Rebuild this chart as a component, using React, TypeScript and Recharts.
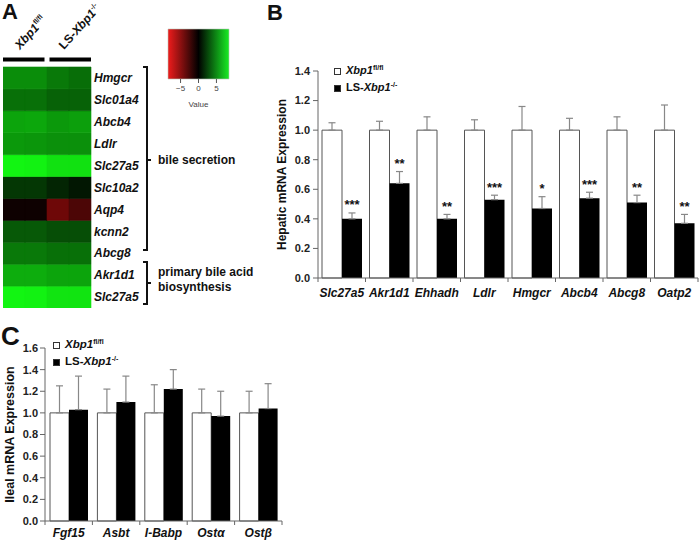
import React from 'react';
import {
  BarChart,
  Bar,
  XAxis,
  YAxis,
  ErrorBar,
  Legend,
  Cell,
  LabelList,
} from 'recharts';

const FONT = '"Liberation Sans", Arial, Helvetica, sans-serif';

// ---------- Panel A: heat map ----------
const heatGenes = ['Hmgcr', 'Slc01a4', 'Abcb4', 'Ldlr', 'Slc27a5', 'Slc10a2', 'Aqp4', 'kcnn2', 'Abcg8', 'Akr1d1', 'Slc27a5'];
const heatCtrl1 = [4.9, 3.9, 5.7, 5.3, 8.5, 1.9, -0.5, 3.1, 4.2, 6.0, 8.5];
const heatCtrl2 = [4.9, 3.9, 5.8, 5.2, 8.4, 1.9, -0.5, 3.1, 4.2, 6.0, 8.4];
const heatKo1 = [4.2, 3.4, 5.3, 5.0, 7.8, 1.3, -3.9, 2.7, 3.9, 5.7, 7.9];
const heatKo2 = [3.8, 3.4, 5.5, 5.0, 7.8, 0.8, -2.7, 2.7, 3.9, 5.7, 7.9];
const heatSampleGroups = ['ctrl', 'ctrl', 'ko', 'ko'];
const colorbarDomain = [-8.5, 8.5];
const colorbarTicks = [-5, 0, 5];

// ---------- Panel B: hepatic ----------
const hepGenes = ['Slc27a5', 'Akr1d1', 'Ehhadh', 'Ldlr', 'Hmgcr', 'Abcb4', 'Abcg8', 'Oatp2'];
const hepCtrl = [1, 1, 1, 1, 1, 1, 1, 1];
const hepCtrlSem = [0.05, 0.06, 0.09, 0.07, 0.16, 0.08, 0.09, 0.17];
const hepKo = [0.4, 0.64, 0.4, 0.53, 0.47, 0.54, 0.51, 0.37];
const hepKoSem = [0.04, 0.08, 0.03, 0.03, 0.08, 0.04, 0.05, 0.06];
const hepStars = ['***', '**', '**', '***', '*', '***', '**', '**'];
const hepTicks = [0, 0.2, 0.4, 0.6, 0.8, 1.0, 1.2, 1.4];

// ---------- Panel C: ileal ----------
const ilealGenes = ['Fgf15', 'Asbt', 'I-Babp', 'Ostα', 'Ostβ'];
const ilealCtrl = [1, 1, 1, 1, 1];
const ilealCtrlSem = [0.25, 0.22, 0.26, 0.22, 0.2];
const ilealKo = [1.03, 1.1, 1.22, 0.97, 1.04];
const ilealKoSem = [0.31, 0.24, 0.18, 0.23, 0.23];
const ilealTicks = [0, 0.2, 0.4, 0.6, 0.8, 1.0, 1.2, 1.4, 1.6];

// ---------- derived tables ----------
const heatSamples = [heatCtrl1, heatCtrl2, heatKo1, heatKo2];
const heatData = heatSamples.map((_, c) => {
  const row: any = { sample: c, group: heatSampleGroups[c] };
  heatGenes.forEach((__, i) => {
    row['r' + i] = 1;
  });
  return row;
});
const heatRowTicks = heatGenes.map((_, i) => heatGenes.length - 0.5 - i);
const colorbarData = [{ name: 'key', range: colorbarDomain }];

const hepData = hepGenes.map((g, i) => ({
  gene: g,
  ctrl: hepCtrl[i],
  ctrlErr: [0, hepCtrlSem[i]],
  ko: hepKo[i],
  koErr: [0, hepKoSem[i]],
  stars: hepStars[i],
}));

const ilealData = ilealGenes.map((g, i) => ({
  gene: g,
  ctrl: ilealCtrl[i],
  ctrlErr: [0, ilealCtrlSem[i]],
  ko: ilealKo[i],
  koErr: [0, ilealKoSem[i]],
}));

function heatColor(v: number) {
  const t = Math.min(1, Math.abs(v) / 8.5);
  if (v >= 0) return `rgb(${Math.round(18 * t)},${Math.round(245 * t)},${Math.round(18 * t)})`;
  return `rgb(${Math.round(240 * t)},${Math.round(18 * t)},${Math.round(18 * t)})`;
}

const GroupTick = (props: any) => {
  const { x, y, payload, index } = props;
  const half = payload && payload.offset ? payload.offset : 21;
  const gap = 2.5;
  const x0 = index === 0 ? x - half : x - half + gap;
  return (
    <g>
      <rect x={x0} y={y - 9.5} width={2 * half - gap} height={4} fill="#000" />
      <text
        transform={`translate(${x - 5},${y - 17}) rotate(-48)`}
        fontFamily={FONT}
        fontSize={12}
        fontWeight="bold"
        fill="#111"
      >
        {index === 0 ? (
          <>
            <tspan fontStyle="italic">Xbp1</tspan>
            <tspan fontSize={7} dy={-5}>fl/fl</tspan>
          </>
        ) : (
          <>
            <tspan>LS-</tspan>
            <tspan fontStyle="italic">Xbp1</tspan>
            <tspan fontSize={7} dy={-5}>-/-</tspan>
          </>
        )}
      </text>
    </g>
  );
};

const makeCatTick = (n: number, dy: number) => (props: any) => {
  const { x, y, payload, index } = props;
  const half = payload && payload.offset ? payload.offset : 0;
  return (
    <g>
      <line x1={x - half} y1={y} x2={x - half} y2={y + 4} stroke="#666" strokeWidth={1} />
      {index === n - 1 && <line x1={x + half} y1={y} x2={x + half} y2={y + 4} stroke="#666" strokeWidth={1} />}
      <text
        x={x}
        y={y + dy}
        textAnchor="middle"
        fontFamily={FONT}
        fontSize={12}
        fontWeight="bold"
        fontStyle="italic"
        fill="#111"
      >
        {payload.value}
      </text>
    </g>
  );
};

const makeYTitle = (text: string, bx: number, size: number) => (p: any) => {
  const vb = p.viewBox || { x: 0, y: 0, width: 0, height: 0 };
  return (
    <text
      transform={`translate(${vb.x + bx},${vb.y + vb.height / 2}) rotate(-90)`}
      textAnchor="middle"
      fontFamily={FONT}
      fontSize={size}
      fontWeight="bold"
      fill="#111"
    >
      {text}
    </text>
  );
};

const LegendContent = ({ size }: { size: number }) => {
  const sq = (fill: string) => (
    <span
      style={{
        display: 'inline-block',
        width: 7,
        height: 7,
        boxSizing: 'border-box',
        border: '1px solid #333',
        background: fill,
        marginRight: 5,
      }}
    />
  );
  const sup = (t: string) => (
    <span style={{ fontSize: 7, position: 'relative', top: -4, fontStyle: 'normal' }}>{t}</span>
  );
  return (
    <div style={{ fontFamily: FONT, fontWeight: 'bold', fontSize: size, color: '#111', lineHeight: '17px' }}>
      <div style={{ display: 'flex', alignItems: 'center', height: 17, whiteSpace: 'nowrap' }}>
        {sq('#fff')}
        <span>
          <i>Xbp1</i>
          {sup('fl/fl')}
        </span>
      </div>
      <div style={{ display: 'flex', alignItems: 'center', height: 17, whiteSpace: 'nowrap' }}>
        {sq('#000')}
        <span>
          LS-<i>Xbp1</i>
          {sup('-/-')}
        </span>
      </div>
    </div>
  );
};

const renderStars = (props: any) => {
  const { x, y, width, height, value, index } = props;
  const v = hepKo[index];
  const e = hepKoSem[index];
  const errTop = Number(y) - (Number(height) * e) / v;
  return (
    <text
      x={Number(x) + Number(width) / 2}
      y={errTop - 3.5}
      textAnchor="middle"
      fontFamily={FONT}
      fontSize={13}
      fontWeight="bold"
      fill="#111"
    >
      {value}
    </text>
  );
};

const axisTick = { fontSize: 11, fontWeight: 'bold', fill: '#222', fontFamily: FONT };

export default function App() {
  return (
    <div
      style={{
        position: 'relative',
        width: 700,
        height: 543,
        background: '#fff',
        overflow: 'hidden',
        fontFamily: FONT,
      }}
    >
      <style>{'body{margin:0;}'}</style>

      {/* Panel A heat map */}
      <div style={{ position: 'absolute', left: 3, top: 0 }}>
        <BarChart
          width={150}
          height={308}
          data={heatData}
          margin={{ top: 0, right: 0, bottom: 0, left: 0 }}
          barCategoryGap={0}
          barGap={0}
        >
          <XAxis xAxisId="s" dataKey="sample" hide />
          <XAxis
            xAxisId="g"
            dataKey="group"
            orientation="top"
            allowDuplicatedCategory={false}
            height={67}
            axisLine={false}
            tickLine={false}
            tickSize={0}
            tickMargin={0}
            interval={0}
            tick={<GroupTick />}
          />
          <YAxis
            orientation="right"
            type="number"
            domain={[0, heatGenes.length]}
            ticks={heatRowTicks}
            interval={0}
            width={62}
            axisLine={false}
            tickLine={false}
            tickSize={0}
            tickMargin={3}
            tickFormatter={(v: number) => heatGenes[Math.round(heatGenes.length - 0.5 - v)]}
            tick={{ fontSize: 12, fontWeight: 'bold', fontStyle: 'italic', fill: '#111', fontFamily: FONT }}
          />
          {heatGenes
            .map((_, i) => i)
            .reverse()
            .map((i) => (
              <Bar key={i} xAxisId="s" dataKey={'r' + i} stackId="h" isAnimationActive={false}>
                {heatData.map((_, c) => (
                  <Cell
                    key={c}
                    fill={heatColor(heatSamples[c][i])}
                    stroke={heatColor(heatSamples[c][i])}
                    strokeWidth={0.6}
                  />
                ))}
              </Bar>
            ))}
        </BarChart>
      </div>

      {/* colour key */}
      <div style={{ position: 'absolute', left: 160, top: 25 }}>
        <BarChart
          layout="vertical"
          width={77}
          height={85}
          data={colorbarData}
          margin={{ top: 4, right: 8, bottom: 0, left: 8 }}
          barCategoryGap={0}
        >
          <defs>
            <linearGradient id="hmGrad" x1="0" y1="0" x2="1" y2="0">
              <stop offset="0%" stopColor="#ee1c1c" />
              <stop offset="50%" stopColor="#000000" />
              <stop offset="100%" stopColor="#18ec24" />
            </linearGradient>
          </defs>
          <XAxis
            type="number"
            domain={colorbarDomain}
            ticks={colorbarTicks}
            interval={0}
            height={31}
            axisLine={false}
            tickLine={{ stroke: '#555' }}
            tickSize={4}
            tickMargin={2}
            tickFormatter={(v: number) => (v < 0 ? `\u2212${-v}` : `${v}`)}
            tick={{ fontSize: 8, fill: '#444', fontFamily: FONT }}
            label={{ value: 'Value', position: 'insideBottom', offset: 3, fontSize: 8, fill: '#444', fontFamily: FONT }}
          />
          <YAxis type="category" dataKey="name" hide />
          <Bar
            dataKey="range"
            fill="url(#hmGrad)"
            stroke="#b8c8b8"
            strokeWidth={0.6}
            isAnimationActive={false}
          />
        </BarChart>
      </div>

      {/* Panel B */}
      <div style={{ position: 'absolute', left: 250, top: 50 }}>
        <BarChart
          width={450}
          height={260}
          data={hepData}
          margin={{ top: 21, right: 2, bottom: 2, left: 0 }}
          barCategoryGap={4}
          barGap={0}
        >
          <XAxis
            dataKey="gene"
            height={30}
            interval={0}
            axisLine={{ stroke: '#666' }}
            tickLine={false}
            tickSize={0}
            tickMargin={0}
            tick={makeCatTick(hepGenes.length, 18.5)}
          />
          <YAxis
            type="number"
            domain={[0, 1.4]}
            ticks={hepTicks}
            interval={0}
            width={68}
            axisLine={{ stroke: '#666' }}
            tickLine={{ stroke: '#666' }}
            tickSize={5}
            tickMargin={3}
            tickFormatter={(v: number) => v.toFixed(1)}
            tick={axisTick}
            label={{ content: makeYTitle('Hepatic mRNA Expression', 35.5, 12) }}
          />
          <Legend
            layout="vertical"
            align="center"
            verticalAlign="middle"
            wrapperStyle={{ left: 84, top: 12.5, width: 130, height: 34 }}
            content={() => <LegendContent size={11} />}
          />
          <Bar dataKey="ctrl" fill="#fff" stroke="#555" strokeWidth={1} isAnimationActive={false}>
            <ErrorBar dataKey="ctrlErr" width={3.5} stroke="#888" strokeWidth={1.2} direction="y" />
          </Bar>
          <Bar dataKey="ko" fill="#000" isAnimationActive={false}>
            <ErrorBar dataKey="koErr" width={3.5} stroke="#888" strokeWidth={1.2} direction="y" />
            <LabelList dataKey="stars" content={renderStars} />
          </Bar>
        </BarChart>
      </div>

      {/* Panel C */}
      <div style={{ position: 'absolute', left: 0, top: 330 }}>
        <BarChart
          width={290}
          height={213}
          data={ilealData}
          margin={{ top: 18, right: 8, bottom: 2, left: 0 }}
          barCategoryGap={5}
          barGap={0}
        >
          <XAxis
            dataKey="gene"
            height={20}
            interval={0}
            axisLine={{ stroke: '#666' }}
            tickLine={false}
            tickSize={0}
            tickMargin={0}
            tick={makeCatTick(ilealGenes.length, 15.5)}
          />
          <YAxis
            type="number"
            domain={[0, 1.6]}
            ticks={ilealTicks}
            interval={0}
            width={45}
            axisLine={{ stroke: '#666' }}
            tickLine={{ stroke: '#666' }}
            tickSize={5}
            tickMargin={2}
            tickFormatter={(v: number) => v.toFixed(1)}
            tick={axisTick}
            label={{ content: makeYTitle('Ileal mRNA Expression', 14, 12.5) }}
          />
          <Legend
            layout="vertical"
            align="center"
            verticalAlign="middle"
            wrapperStyle={{ left: 53, top: 6.5, width: 130, height: 34 }}
            content={() => <LegendContent size={11.5} />}
          />
          <Bar dataKey="ctrl" fill="#fff" stroke="#555" strokeWidth={1} isAnimationActive={false}>
            <ErrorBar dataKey="ctrlErr" width={3.5} stroke="#888" strokeWidth={1.2} direction="y" />
          </Bar>
          <Bar dataKey="ko" fill="#000" isAnimationActive={false}>
            <ErrorBar dataKey="koErr" width={3.5} stroke="#888" strokeWidth={1.2} direction="y" />
          </Bar>
        </BarChart>
      </div>

      {/* annotations: panel letters, brackets */}
      <svg
        width={700}
        height={543}
        style={{ position: 'absolute', left: 0, top: 0, pointerEvents: 'none' }}
      >
        <g fontFamily={FONT} fontWeight="bold" fill="#111">
          <text x={2} y={19} fontSize={22}>A</text>
          <text x={267} y={20} fontSize={22}>B</text>
          <text x={1} y={345} fontSize={26}>C</text>
        </g>
        <g stroke="#111" strokeWidth={2} fill="none">
          <polyline points="143,67 147,67 147,250 143,250" />
          <line x1={147} y1={160} x2={151} y2={160} />
          <polyline points="143,262 147,262 147,304 143,304" />
          <line x1={147} y1={283} x2={151} y2={283} />
        </g>
        <g fontFamily={FONT} fontWeight="bold" fontSize={12} fill="#111">
          <text x={158} y={164}>bile secretion</text>
          <text x={158} y={276}>primary bile acid</text>
          <text x={158} y={291}>biosynthesis</text>
        </g>
      </svg>
    </div>
  );
}
